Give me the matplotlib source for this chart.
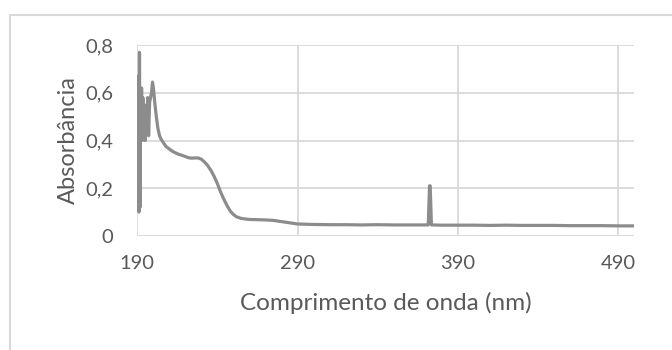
import matplotlib
matplotlib.use('Agg')
import matplotlib.pyplot as plt
from matplotlib.patches import Rectangle
from matplotlib.ticker import FuncFormatter

# UV-Vis spectrum: wavelength (nm) vs absorbance
wavelength = [190.0, 190.3, 190.6, 190.9, 191.2, 191.5, 191.8, 192.1, 192.4, 192.8,
              193.2, 193.6, 194.0, 194.5, 195.0, 195.5, 196.0, 196.6, 197.2, 197.8,
              198.4, 199.0, 199.6, 200.2, 201.0, 202.0, 203.0, 204.0, 205.0, 206.5,
              208.0, 210.0, 212.0, 214.0, 216.0, 218.0, 220.0, 222.0, 224.0, 226.0,
              228.0, 230.0, 232.0, 234.0, 236.0, 238.0, 240.0, 242.0, 244.0, 246.0,
              248.0, 250.0, 252.0, 255.0, 260.0, 265.0, 270.0, 275.0, 280.0, 285.0,
              290.0, 300.0, 310.0, 320.0, 330.0, 340.0, 350.0, 360.0, 371.5, 372.3,
              372.7, 373.5, 380.0, 390.0, 400.0, 410.0, 420.0, 430.0, 440.0, 450.0,
              460.0, 470.0, 480.0, 490.0, 500.0]
absorbance = [0.32, 0.67, 0.35, 0.60, 0.10, 0.77, 0.12, 0.55, 0.45, 0.62,
              0.40, 0.58, 0.42, 0.55, 0.40, 0.52, 0.45, 0.58, 0.42, 0.56,
              0.58, 0.60, 0.645, 0.62, 0.56, 0.50, 0.45, 0.42, 0.405, 0.39,
              0.375, 0.365, 0.355, 0.348, 0.342, 0.338, 0.333, 0.328, 0.326, 0.327,
              0.327, 0.322, 0.31, 0.295, 0.275, 0.25, 0.22, 0.185, 0.155, 0.128,
              0.105, 0.09, 0.08, 0.073, 0.069, 0.068, 0.067, 0.065, 0.06, 0.055,
              0.05, 0.048, 0.047, 0.047, 0.046, 0.047, 0.046, 0.046, 0.046, 0.21,
              0.21, 0.046, 0.045, 0.045, 0.045, 0.044, 0.045, 0.044, 0.044, 0.044,
              0.043, 0.043, 0.043, 0.042, 0.042]

xticks = [190, 290, 390, 490]
yticks = [0, 0.2, 0.4, 0.6, 0.8]

plt.rcParams['font.family'] = ['Lato', 'DejaVu Sans']

fig = plt.figure(figsize=(6.72, 3.5), dpi=100)
ax = fig.add_axes([0.204, 0.326, 0.74, 0.545])

# chart frame, cut off at right and bottom
fig.patches.append(Rectangle((10 / 672, -0.1), 1.2, 0.957 + 0.1, transform=fig.transFigure,
                             fill=False, edgecolor='#d9d9d9', linewidth=1.5))

ax.plot(wavelength, absorbance, color='#8c8c8c', linewidth=2.3, solid_joinstyle='round')

ax.set_xlim(190, 500)
ax.set_ylim(0, 0.8)
ax.set_xticks(xticks)
ax.set_yticks(yticks)
ax.yaxis.set_major_formatter(FuncFormatter(lambda v, p: '0' if v == 0 else ('%.1f' % v).replace('.', ',')))
ax.grid(True, color='#d9d9d9', linewidth=1.3)
ax.set_axisbelow(True)
for s in ax.spines.values():
    s.set_visible(False)
ax.tick_params(length=0, labelsize=14.5, labelcolor='#595959')
ax.tick_params(axis='x', pad=14)
ax.tick_params(axis='y', pad=17)

ax.set_xlabel('Comprimento de onda (nm)', fontsize=17.5, color='#595959', labelpad=14)
ax.set_ylabel('Absorbância', fontsize=17, color='#595959', labelpad=5)

fig.savefig('out.png', dpi=100)
